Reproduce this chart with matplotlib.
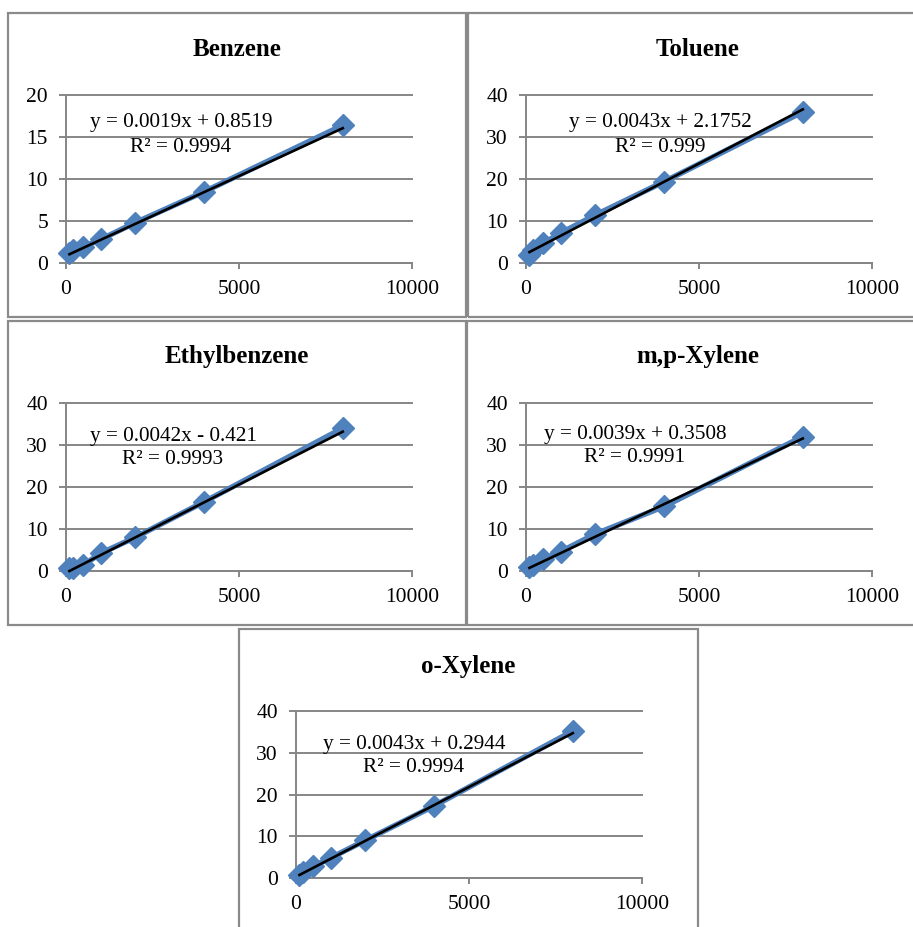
import matplotlib
matplotlib.use("Agg")
import matplotlib.pyplot as plt
from matplotlib.patches import Rectangle
import numpy as np

plt.rcParams['font.family'] = ['Liberation Serif', 'DejaVu Serif']

W, H = 913, 927

# Calibration standards (concentration) and peak responses
conc = [100, 200, 500, 1000, 2000, 4000, 8000]

benzene = [1.2, 1.5, 1.9, 2.8, 4.8, 8.5, 16.4]
toluene = [1.9, 3.0, 4.7, 7.1, 11.4, 19.4, 36.0]
ethylbenzene = [0.6, 0.8, 1.4, 4.2, 8.0, 16.5, 34.0]
mp_xylene = [0.9, 1.5, 2.8, 4.6, 8.8, 15.4, 32.0]
o_xylene = [0.8, 1.5, 2.8, 4.8, 9.0, 17.3, 35.2]

names = ["Benzene", "Toluene", "Ethylbenzene", "m,p-Xylene", "o-Xylene"]
responses = [benzene, toluene, ethylbenzene, mp_xylene, o_xylene]
slopes = [0.0019, 0.0043, 0.0042, 0.0039, 0.0043]
intercepts = [0.8519, 2.1752, -0.421, 0.3508, 0.2944]
r2_values = ["0.9994", "0.999", "0.9993", "0.9991", "0.9994"]
y_max = [20, 40, 40, 40, 40]
y_step = [5, 10, 10, 10, 10]
x_ticks = [0, 5000, 10000]

# panel layout in pixels: frame box, plot area (x0, x1, ybottom, ytop),
# title centre, equation centre
frames = [(8, 13, 466, 317), (468, 13, 930, 317),
          (8, 321, 466, 625), (467, 321, 930, 625),
          (239, 629, 698, 940)]
plot_areas = [(66, 412, 263, 95), (526, 872, 263, 95),
              (66, 412, 571, 403), (526, 872, 571, 403),
              (296, 642, 878, 711)]
title_pos = [(237, 49), (698, 49), (237, 357), (698, 357), (468, 666)]
eq_pos = [(181, 123), (660, 123), (173, 436), (635, 434), (414, 744)]
r2_dy = 24

blue = '#4F81BD'
grid_gray = '#868686'
frame_gray = '#8a8a8a'

fig = plt.figure(figsize=(W / 100, H / 100), dpi=100)


def fx(px):
    return px / W


def fy(py):
    return 1 - py / H


for i in range(5):
    fxa, fya, fxb, fyb = frames[i]
    fig.patches.append(Rectangle((fx(fxa), fy(fyb)), fx(fxb) - fx(fxa),
                                 fy(fya) - fy(fyb), transform=fig.transFigure,
                                 fill=False, edgecolor=frame_gray, lw=1.6))

    x0, x1, yb, yt = plot_areas[i]
    ax = fig.add_axes([fx(x0), fy(yb), fx(x1) - fx(x0), fy(yt) - fy(yb)])
    ax.set_xlim(0, 10000)
    ax.set_ylim(0, y_max[i])
    ax.set_xticks(x_ticks)
    ax.set_yticks(np.arange(0, y_max[i] + 1, y_step[i]))
    ax.yaxis.grid(True, color=grid_gray, lw=1.4, clip_on=False)
    for s in ['top', 'right']:
        ax.spines[s].set_visible(False)
    for s in ['left', 'bottom']:
        ax.spines[s].set_color(grid_gray)
        ax.spines[s].set_linewidth(1.4)
    ax.tick_params(axis='y', length=5, width=1.4, color=grid_gray,
                   labelsize=15.5, pad=8)
    ax.tick_params(axis='x', length=4, width=1.4, color=grid_gray,
                   labelsize=15.5, pad=8)
    ax.set_facecolor('none')

    ax.plot(conc, responses[i], color=blue, lw=4, marker='D', ms=11,
            mec=blue, mfc=blue, clip_on=False, zorder=3)
    xs = np.array([conc[0], conc[-1]])
    ax.plot(xs, slopes[i] * xs + intercepts[i], color='black', lw=1.9,
            clip_on=False, zorder=4)

    tx, ty = title_pos[i]
    fig.text(fx(tx), fy(ty), names[i], ha='center', va='center',
             fontsize=18, fontweight='bold')
    sign = '+' if intercepts[i] >= 0 else '-'
    eq = f"y = {slopes[i]:.4f}x {sign} {abs(intercepts[i]):g}"
    ex, ey = eq_pos[i]
    fig.text(fx(ex), fy(ey), eq, ha='center', va='center', fontsize=15.3)
    fig.text(fx(ex), fy(ey + r2_dy), f"R² = {r2_values[i]}", ha='center',
             va='center', fontsize=15.3)

fig.savefig("out.png", dpi=100)
